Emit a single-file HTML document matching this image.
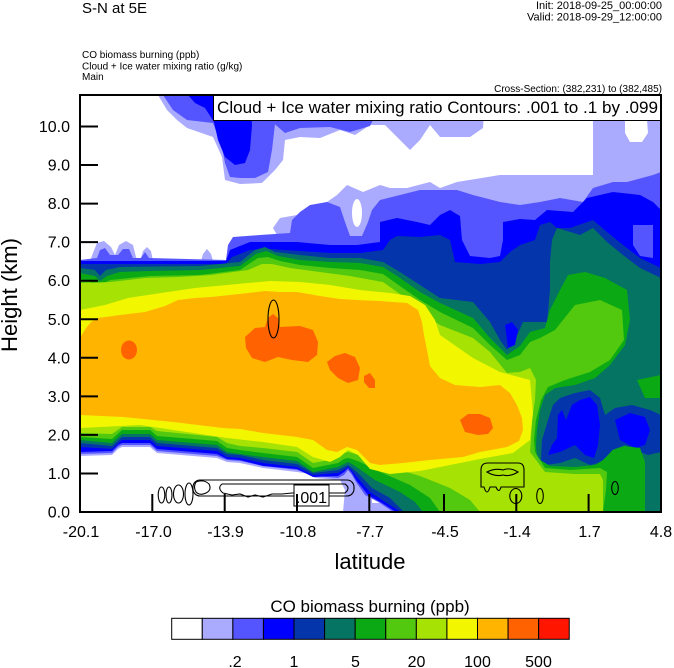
<!DOCTYPE html>
<html><head><meta charset="utf-8">
<style>
html,body{margin:0;padding:0;background:#fff;}
svg{display:block;}
text{font-family:"Liberation Sans",Arial,sans-serif;fill:#000;}
</style></head>
<body>
<svg width="674" height="668" viewBox="0 0 674 668" xmlns="http://www.w3.org/2000/svg">
<defs><clipPath id="pc"><rect x="80" y="95" width="581" height="417"/></clipPath></defs>
<rect width="674" height="668" fill="#fff"/>

<g clip-path="url(#pc)">
<!-- base lavender -->
<rect x="80" y="95" width="581" height="417" fill="#AAAAFF"/>
<!-- white regions -->
<polygon fill="#fff" points="80,95 158,95 167,110 177,120 187,128 213,137 222,157 225,180 240,184 262,183 275,170 283,160 285,140 300,137 320,138 340,130 355,135 370,125 385,125 400,140 410,150 420,140 430,125 440,137 470,137 483,128 485,96 593,96 593,175 540,175 500,175 457,182 440,188 430,182 407,188 390,188 380,185 363,192 347,185 337,195 327,202 307,208 297,215 280,218 273,228 277,235 263,242 250,248 232,252 228,256 226,261 213,261 211,254 207,249 203,254 201,261 153,261 151,251 147,247 143,251 140,261 137,261 133,245 126,241 119,245 115,255 111,247 104,241 97,243 93,253 90,261 80,261"/>
<polygon fill="#fff" points="625,120 647,120 648,133 642,142 630,142 625,133"/>
<ellipse cx="357" cy="213" rx="5" ry="14" fill="#fff"/>
<polygon fill="#fff" points="80,456 112,455 118,449 122,447 150,447 157,453 217,458 227,462 240,463 263,468 297,472 310,474 315,478 340,480 345,490 343,512 80,512"/>
<rect x="372" y="496" width="12" height="7" fill="#fff"/>

<!-- c2 -->
<g fill="#5555FF">
<polygon points="163,95 300,95 300,120 275,124 272,150 268,172 255,178 240,178 230,177 225,163 222,147 213,123 187,120 173,110"/>
<polygon points="270,120 373,120 370,126 350,132 330,127 300,128 285,133"/>
<polygon points="80,260 97,258 100,250 105,248 110,255 118,255 123,249 129,249 133,258 141,258 145,252 149,258 226,260 228,245 233,237 260,235 290,233 292,220 300,212 310,205 327,202 340,207 345,222 350,236 362,236 368,222 372,210 380,200 400,195 420,190 440,190 457,190 473,195 500,202 520,205 540,202 560,198 583,202 593,188 613,182 627,182 653,175 661,172 661,512 393,512 380,503 365,495 356,482 352,475 348,470 344,475 338,478 315,476 297,470 263,466 240,461 227,460 217,456 157,451 150,445 122,445 118,447 112,453 80,454"/>
</g>
<!-- c3 -->
<g fill="#0000FF">
<polygon points="188,95 250,95 252,125 250,150 245,163 235,165 225,157 218,140 214,122 205,108 195,103"/>
<polygon points="80,261 226,261 230,250 250,242 270,242 297,242 330,245 357,245 380,242 380,222 397,218 417,222 430,225 440,215 450,210 460,216 462,240 470,256 490,258 500,256 503,240 503,222 520,219 535,220 547,210 573,212 587,198 613,192 640,195 653,202 661,210 661,512 396,512 382,503 368,495 356,480 352,473 348,468 344,472 338,476 313,477 297,469 263,466 240,460 227,459 217,454 157,449 150,443 122,443 118,445 112,451 80,452"/>
</g>
<polygon fill="#5555FF" points="633,225 653,225 653,258 640,256 633,245"/>
<!-- c4 -->
<polygon fill="#0535AA" points="80,264 226,264 232,257 250,250 270,249 300,251 330,253 360,253 383,250 390,240 397,236 420,237 440,235 450,240 455,262 480,264 500,262 510,252 520,245 535,240 540,225 550,222 557,228 570,228 593,220 607,232 623,245 640,258 661,268 661,512 401,512 385,502 370,492 357,477 352,471 348,467 344,470 338,473 313,475 297,467 263,463 240,458 227,457 217,451 157,446 150,440 122,440 112,449 80,447"/>
<!-- c5 teal -->
<polygon fill="#067462" points="80,268 95,270 100,276 106,270 120,267 200,266 240,262 255,250 265,247 275,252 300,255 330,258 360,258 383,262 400,272 420,285 440,298 473,302 490,322 500,340 507,350 515,340 523,322 547,322 550,290 550,262 552,240 557,228 580,235 593,228 607,242 623,255 640,268 661,278 661,512 404,512 390,498 372,488 358,473 352,468 348,465 344,467 338,470 313,473 297,464 263,460 240,455 227,454 217,448 157,443 150,437 122,437 112,446 80,443"/>
<!-- holes in teal -->
<polygon fill="#0535AA" points="541,460 542,440 548,420 553,405 560,398 575,393 590,390 600,398 605,415 615,408 632,405 650,410 661,415 661,452 648,455 635,450 625,445 612,450 603,462 590,465 575,458 560,463 545,465"/>
<g fill="#0000FF">
<polygon points="548,455 552,445 557,438 558,415 562,410 566,420 572,405 580,400 590,397 597,405 600,425 598,445 594,458 585,455 575,445 560,452"/>
<polygon points="615,420 630,413 645,417 650,430 645,445 635,448 620,440"/>
<polygon points="505,325 512,322 518,330 515,345 508,348"/>
</g>
<!-- c6 -->
<g fill="#0BAA14">
<polygon points="80,273 95,276 100,281 107,276 120,272 150,271 200,270 240,266 256,254 266,251 278,256 300,260 330,262 360,263 383,267 400,278 420,292 440,303 473,318 490,338 507,355 520,346 530,332 545,328 550,310 560,290 568,275 585,272 605,278 627,290 630,320 625,345 610,365 595,378 575,385 555,388 545,395 540,410 537,430 536,445 537,458 550,466 575,467 595,465 603,460 613,450 625,446 640,448 645,462 645,512 423,512 415,502 400,492 375,480 358,468 352,464 348,462 344,464 338,467 313,472 297,461 263,457 240,454 227,452 217,445 157,440 150,434 122,434 112,443 80,440"/>
<polygon points="637,380 661,375 661,398 645,398"/>
</g>
<!-- c7 -->
<polygon fill="#52C80E" points="80,279 100,285 110,280 150,276 200,275 240,270 258,258 268,257 280,261 300,265 330,268 360,270 383,274 400,286 420,300 440,312 473,328 490,345 507,360 520,355 530,342 540,338 555,330 575,305 600,300 622,310 624,340 610,360 590,372 565,380 548,387 541,400 536,420 534,440 535,452 545,468 570,470 600,468 607,472 606,490 603,512 440,512 430,498 410,485 380,472 360,462 352,459 348,458 344,459 338,463 313,468 297,457 263,453 240,450 227,448 217,441 157,436 150,430 122,430 112,439 80,437"/>
<!-- c8 -->
<polygon fill="#A6E204" points="80,283 111,282 145,278 178,277 211,275 248,270 262,264 272,264 290,268 320,272 350,276 383,282 400,294 420,312 440,325 473,338 490,352 507,373 520,372 530,368 536,380 535,400 532,420 531,440 530,452 545,472 575,474 600,474 603,480 603,512 480,512 470,500 450,488 420,476 385,466 362,456 352,453 348,452 344,453 338,458 330,460 313,463 297,452 263,448 240,446 227,443 217,437 157,431 150,427 122,427 112,434 80,433"/>
<!-- c9 yellow -->
<polygon fill="#F2F700" points="80,310 105,305 128,298 161,293 195,288 248,283 270,281 300,282 330,285 360,290 390,293 410,296 425,305 435,320 440,335 473,358 500,372 515,376 530,380 533,413 530,440 513,453 480,459 450,465 420,471 390,474 370,469 358,455 348,450 340,457 330,462 313,457 297,447 263,442 227,438 140,425 80,428"/>
<!-- c10 orange -->
<polygon fill="#FFB400" points="80,338 86,328 91,322 98,318 120,315 145,312 165,306 178,300 195,298 211,297 230,295 248,293 265,291 280,292 297,292 320,296 340,299 357,300 380,301 407,303 418,310 422,322 424,335 427,350 430,366 440,378 455,385 480,387 500,385 510,393 517,405 522,418 523,430 519,441 507,447 480,452 463,457 430,460 403,463 380,465 370,463 357,450 347,447 337,452 327,450 313,440 297,437 263,433 240,429 223,428 173,422 123,417 80,415"/>
<!-- c11 -->
<g fill="#FF6200">
<ellipse cx="129" cy="350" rx="8" ry="9.5"/>
<polygon points="245,337 255,328 265,327 268,318 273,314 278,318 280,327 300,326 313,330 318,342 317,355 308,362 292,360 278,357 265,362 252,358 246,348"/>
<polygon points="327,362 335,356 345,353 355,357 360,368 358,380 348,383 338,378 330,370"/>
<polygon points="364,376 370,373 375,380 375,388 369,388 364,382"/>
<polygon points="460,420 468,414 480,414 490,418 493,428 488,434 478,435 465,432"/>
</g>

<!-- contour lines -->
<g fill="none" stroke="#000" stroke-width="1.1">
<ellipse cx="273.5" cy="319" rx="5.5" ry="19"/>
<ellipse cx="161.5" cy="495" rx="3.3" ry="8"/>
<ellipse cx="169" cy="495" rx="3" ry="8"/>
<ellipse cx="178.5" cy="494" rx="5" ry="9"/>
<ellipse cx="189" cy="494" rx="4" ry="11"/>
<path d="M196,482 Q204,479 209,484 Q212,490 206,493 Q200,496 196,492 Q193,487 196,482 Z"/>
<rect x="193" y="480" width="161" height="16" rx="7"/>
<path d="M222,484 L345,484 Q351,488 345,493 L292,493 L282,494 L272,494 L263,497 L255,495 L248,497 L240,494 L232,495 L223,493 Q217,488 222,484 Z"/>
<path d="M481,470 Q481,463 488,463 L518,463 Q524,463 524,470 L524,487 L501,487 Q499,494 496,487 L490,487 Q487,497 484,487 L481,487 Z"/>
<path d="M487,472 Q495,468 503,470 Q510,467 518,472 Q510,477 503,475 Q495,477 487,472 Z"/>
<ellipse cx="515.8" cy="496" rx="6" ry="7.5"/>
<ellipse cx="540" cy="496" rx="3.3" ry="7.5"/>
<ellipse cx="615" cy="488" rx="3.3" ry="6.5"/>
</g>
<rect x="294" y="485" width="35" height="21" fill="#fff" stroke="#000" stroke-width="1"/>
<text x="311.5" y="503" font-size="16" text-anchor="middle">.001</text>
</g>

<!-- ticks -->
<g stroke="#000" stroke-width="2">
<line x1="152.3" y1="494" x2="152.3" y2="512"/>
<line x1="224.7" y1="494" x2="224.7" y2="512"/>
<line x1="297" y1="494" x2="297" y2="512"/>
<line x1="369.3" y1="494" x2="369.3" y2="512"/>
<line x1="444" y1="494" x2="444" y2="512"/>
<line x1="516.3" y1="494" x2="516.3" y2="512"/>
<line x1="588.6" y1="494" x2="588.6" y2="512"/>
<line x1="80" y1="473.45" x2="98" y2="473.45"/>
<line x1="80" y1="434.9" x2="98" y2="434.9"/>
<line x1="80" y1="396.35" x2="98" y2="396.35"/>
<line x1="80" y1="357.8" x2="98" y2="357.8"/>
<line x1="80" y1="319.25" x2="98" y2="319.25"/>
<line x1="80" y1="280.7" x2="98" y2="280.7"/>
<line x1="80" y1="242.15" x2="98" y2="242.15"/>
<line x1="80" y1="203.6" x2="98" y2="203.6"/>
<line x1="80" y1="165.05" x2="98" y2="165.05"/>
<line x1="80" y1="126.5" x2="98" y2="126.5"/>
</g>

<!-- legend box -->
<rect x="213.5" y="95.5" width="447" height="25" fill="#fff" stroke="#000" stroke-width="1"/>
<text x="217" y="113" font-size="17" textLength="441" lengthAdjust="spacingAndGlyphs">Cloud + Ice water mixing ratio Contours: .001 to .1 by .099</text>

<!-- frame -->
<rect x="80" y="95" width="581" height="417" fill="none" stroke="#000" stroke-width="2"/>

<!-- y labels -->
<g font-size="16" text-anchor="end">
<text x="70" y="517.5">0.0</text>
<text x="70" y="479">1.0</text>
<text x="70" y="440.4">2.0</text>
<text x="70" y="401.9">3.0</text>
<text x="70" y="363.3">4.0</text>
<text x="70" y="324.8">5.0</text>
<text x="70" y="286.2">6.0</text>
<text x="70" y="247.7">7.0</text>
<text x="70" y="209.1">8.0</text>
<text x="70" y="170.6">9.0</text>
<text x="70" y="132">10.0</text>
</g>
<!-- x labels -->
<g font-size="16" text-anchor="middle">
<text x="81" y="537">-20.1</text>
<text x="153.5" y="537">-17.0</text>
<text x="225.5" y="537">-13.9</text>
<text x="298" y="537">-10.8</text>
<text x="370" y="537">-7.7</text>
<text x="445" y="537">-4.5</text>
<text x="517" y="537">-1.4</text>
<text x="589.5" y="537">1.7</text>
<text x="661" y="537">4.8</text>
</g>

<!-- axis titles -->
<text x="370" y="569" font-size="22" text-anchor="middle">latitude</text>
<text transform="translate(17,295) rotate(-90)" x="0" y="0" font-size="22" text-anchor="middle" textLength="114" lengthAdjust="spacingAndGlyphs">Height (km)</text>

<!-- header -->
<text x="82" y="13" font-size="15">S-N at 5E</text>
<text x="662" y="9" font-size="11" text-anchor="end">Init: 2018-09-25_00:00:00</text>
<text x="662" y="20.5" font-size="11" text-anchor="end">Valid: 2018-09-29_12:00:00</text>
<text x="82" y="58" font-size="10">CO biomass burning   (ppb)</text>
<text x="82" y="69.5" font-size="10">Cloud + Ice water mixing ratio   (g/kg)</text>
<text x="82" y="80" font-size="10">Main</text>
<text x="662" y="92" font-size="10" text-anchor="end">Cross-Section: (382,231) to (382,485)</text>

<!-- colorbar -->
<text x="370" y="612" font-size="17" text-anchor="middle">CO biomass burning  (ppb)</text>
<g stroke="#000" stroke-width="1">
<rect x="171.7" y="618.3" width="30.58" height="21" fill="#FFFFFF"/>
<rect x="202.28" y="618.3" width="30.58" height="21" fill="#AAAAFF"/>
<rect x="232.86" y="618.3" width="30.58" height="21" fill="#5555FF"/>
<rect x="263.44" y="618.3" width="30.58" height="21" fill="#0000FF"/>
<rect x="294.02" y="618.3" width="30.58" height="21" fill="#0535AA"/>
<rect x="324.6" y="618.3" width="30.58" height="21" fill="#067462"/>
<rect x="355.18" y="618.3" width="30.58" height="21" fill="#0BAA14"/>
<rect x="385.76" y="618.3" width="30.58" height="21" fill="#52C80E"/>
<rect x="416.34" y="618.3" width="30.58" height="21" fill="#A6E204"/>
<rect x="446.92" y="618.3" width="30.58" height="21" fill="#F2F700"/>
<rect x="477.5" y="618.3" width="30.58" height="21" fill="#FFB400"/>
<rect x="508.08" y="618.3" width="30.58" height="21" fill="#FF6200"/>
<rect x="538.66" y="618.3" width="30.58" height="21" fill="#FF1500"/>
</g>
<g font-size="16" text-anchor="middle">
<text x="235" y="667">.2</text>
<text x="294" y="667">1</text>
<text x="355.5" y="667">5</text>
<text x="416.5" y="667">20</text>
<text x="477.5" y="667">100</text>
<text x="538.5" y="667">500</text>
</g>
</svg>
</body></html>
